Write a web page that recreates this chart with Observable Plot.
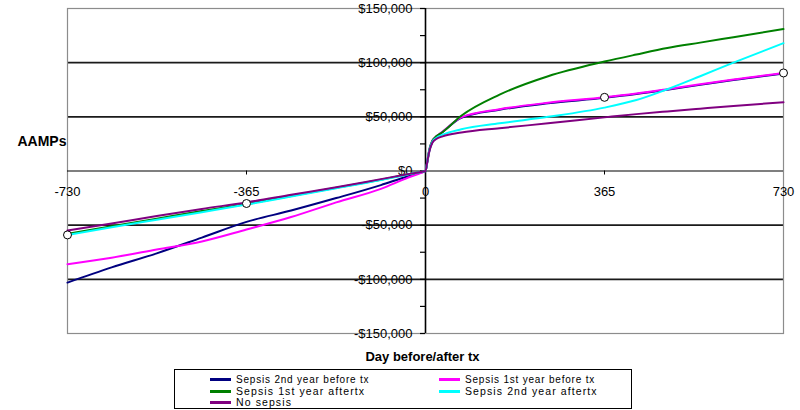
<!DOCTYPE html>
<html>
<head>
<meta charset="utf-8">
<script src="https://cdn.jsdelivr.net/npm/d3@7"></script>
<script src="https://cdn.jsdelivr.net/npm/@observablehq/plot@0.6"></script>
<style>
  html, body { margin: 0; padding: 0; background: #fff; }
  body { font-family: "Liberation Sans", Arial, sans-serif; }
  #wrap { position: relative; width: 800px; height: 410px; overflow: hidden; }
  #legend { position: absolute; left: 174px; top: 369px; width: 458px; height: 40px; border: 1px solid #000; box-sizing: border-box; background: #fff; }
  .item { position: absolute; height: 11px; line-height: 11px; display: flex; align-items: center; white-space: nowrap; color: #000; }
  .sw { display: inline-block; width: 21px; height: 3px; margin-right: 5px; }
</style>
</head>
<body>
<div id="wrap"></div>
<script>
// ---- data ----
const seriesNames = [
  "Sepsis 2nd year before tx",
  "Sepsis 1st year before tx",
  "Sepsis 1st year after tx",
  "Sepsis 2nd year after tx",
  "No sepsis"
];
const legendLabels = [
  "Sepsis 2nd year before tx",
  "Sepsis 1st year before tx",
  "Sepsis 1st year aftertx",
  "Sepsis 2nd year aftertx",
  "No sepsis"
];
const seriesColors = ["#000080", "#ff00ff", "#008000", "#00ffff", "#800080"];

const days = [-730, -640, -548, -456, -365, -274, -182, -91, -40, -10, 0, 4, 8, 14, 22, 35, 73, 151, 250, 365, 430, 493, 560, 628, 730];

const sepsis2ndBefore = [-103000, -89000, -76000, -61500, -47000, -36500, -25000, -13000, -5500, -1500, 0, 9000, 19000, 27000, 31000, 36000, 49000, 56500, 62500, 67500, 71000, 75000, 79500, 84000, 90000];
const sepsis1stBefore = [-86000, -80000, -72500, -65000, -54000, -42500, -29000, -16500, -7000, -1800, 0, 10000, 20000, 28000, 32000, 36500, 49500, 57000, 63000, 68000, 71500, 75500, 80000, 84500, 90500];
const sepsis1stAfter  = [-58000, -51000, -44000, -37000, -30500, -23000, -15500, -8000, -3500, -1000, 0, 10000, 20000, 28000, 32000, 36000, 51000, 70500, 87500, 101000, 107500, 113500, 118500, 123500, 131000];
const sepsis2ndAfter  = [-59000, -52000, -45000, -38000, -31000, -23500, -16000, -8300, -3600, -1000, 0, 10000, 19500, 27000, 30500, 33500, 38500, 44000, 50000, 58500, 65500, 75500, 87500, 100000, 118000];
const noSepsis        = [-55000, -48500, -41500, -35000, -29000, -22000, -15000, -7500, -3300, -900, 0, 9500, 18500, 26000, 29500, 32000, 35500, 39500, 44000, 49500, 52500, 55000, 57500, 60000, 63500];

const markerDays = [-730, -365, 365, 730];
const markerValues = [-59000, -30000, 68000, 90500];

const xTicks = [-730, -365, 0, 365, 730];
const yLabelTicks = [-150000, -100000, -50000, 0, 50000, 100000, 150000];
const yMinorTicks = [-150000, -125000, -100000, -75000, -50000, -25000, 0, 25000, 50000, 75000, 100000, 125000, 150000];
const gridValues = [-100000, -50000, 50000, 100000];

// ---- build table ----
const allSeries = [sepsis2ndBefore, sepsis1stBefore, sepsis1stAfter, sepsis2ndAfter, noSepsis];
const rows = [];
allSeries.forEach((vals, s) => {
  days.forEach((d, i) => rows.push({series: seriesNames[s], day: d, value: vals[i]}));
});
const markers = markerDays.map((d, i) => ({day: d, value: markerValues[i]}));

const fmt = v => (v < 0 ? "-$" : "$") + d3.format(",")(Math.abs(v));
const font = "'Liberation Sans', Arial, sans-serif";

const chart = Plot.plot({
  width: 800,
  height: 369,
  marginLeft: 67,
  marginRight: 17,
  marginTop: 8,
  marginBottom: 36,
  style: {fontFamily: font, background: "#fff", overflow: "visible"},
  x: {domain: [-730, 730], axis: null},
  y: {domain: [-150000, 150000], axis: null},
  color: {domain: seriesNames, range: seriesColors},
  marks: [
    Plot.ruleY(gridValues, {stroke: "#1a1a1a", strokeWidth: 1.6}),
    Plot.frame({stroke: "#8c8c8c", strokeWidth: 1.2}),
    Plot.ruleY([0], {stroke: "#000", strokeWidth: 1.2}),
    Plot.ruleX([0], {stroke: "#000", strokeWidth: 1.6}),
    Plot.ruleY(yMinorTicks, {y: d => d, x1: 0, x2: 0, insetLeft: -5, stroke: "#000", strokeWidth: 1.2}),
    Plot.ruleX(xTicks.filter(d => d !== 0 && Math.abs(d) !== 730), {x: d => d, y1: 0, y2: 0, insetBottom: -4, stroke: "#000"}),
    Plot.text(yLabelTicks, {x: 0, y: d => d, text: fmt, textAnchor: "end", dx: -13, fontSize: 13, fill: "#000"}),
    Plot.text(xTicks, {x: d => d, y: 0, text: d => String(d), dy: 21, fontSize: 13, fill: "#000"}),
    Plot.line(rows, {x: "day", y: "value", z: "series", stroke: "series", strokeWidth: 2, curve: "monotone-x"}),
    Plot.dot(markers, {x: "day", y: "value", r: 4, fill: "#fff", stroke: "#000", strokeWidth: 1}),
    Plot.text(["AAMPs"], {frameAnchor: "left", dx: -1, dy: -29, textAnchor: "end", fontSize: 14, fontWeight: "bold", fill: "#000"}),
    Plot.text(["Day before/after tx"], {frameAnchor: "bottom", dx: -3, dy: 27, fontSize: 13, fontWeight: "bold", fill: "#000", style: "letter-spacing:0.8px"})
  ]
});

const wrap = document.getElementById("wrap");
wrap.appendChild(chart);

// ---- legend ----
const legend = document.createElement("div");
legend.id = "legend";
const pos = [
  {left: 35, top: 4, size: 10, ls: 0.8},
  {left: 264, top: 4, size: 10, ls: 0.8},
  {left: 35, top: 15.5, size: 10.5, ls: 1.1},
  {left: 264, top: 15.5, size: 10.5, ls: 1.1},
  {left: 35, top: 27, size: 10.5, ls: 1.1}
];
legendLabels.forEach((lab, i) => {
  const it = document.createElement("div");
  it.className = "item";
  it.style.left = pos[i].left + "px";
  it.style.top = pos[i].top + "px";
  it.style.fontSize = pos[i].size + "px";
  const sw = document.createElement("span");
  sw.className = "sw";
  sw.style.background = seriesColors[i];
  const tx = document.createElement("span");
  tx.style.letterSpacing = pos[i].ls + "px";
  tx.textContent = lab;
  it.appendChild(sw);
  it.appendChild(tx);
  legend.appendChild(it);
});
wrap.appendChild(legend);
</script>
</body>
</html>
